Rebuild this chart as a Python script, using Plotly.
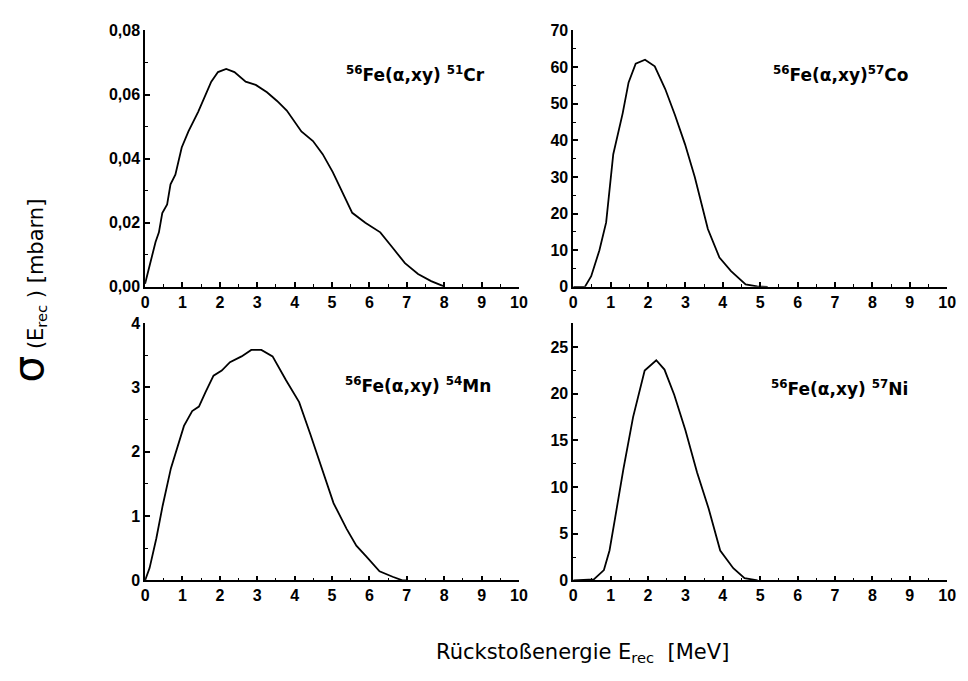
import plotly.graph_objects as go

# Recoil energy spectra for 56Fe(alpha,xy) reaction products
energy_cr = [0, 0.1, 0.28, 0.37, 0.46, 0.59, 0.68, 0.81, 0.98, 1.16, 1.42, 1.77, 1.95, 2.17,
             2.39, 2.69, 2.96, 3.26, 3.53, 3.79, 4.18, 4.49, 4.75, 5.02, 5.28, 5.54, 5.89,
             6.29, 6.6, 6.95, 7.3, 7.65, 7.96, 8.0]
sigma_cr = [0.001, 0.006, 0.014, 0.017, 0.023, 0.0257, 0.032, 0.035, 0.0435, 0.0485, 0.0546,
            0.064, 0.067, 0.068, 0.067, 0.064, 0.063, 0.0607, 0.058, 0.055, 0.0485, 0.0455,
            0.0414, 0.0358, 0.0292, 0.0231, 0.020, 0.017, 0.0125, 0.0074, 0.004, 0.0018,
            0.0003, 0.0]

energy_co = [0, 0.31, 0.48, 0.70, 0.88, 1.07, 1.32, 1.48, 1.67, 1.92, 2.18, 2.46, 2.72, 2.99,
             3.25, 3.60, 3.91, 4.22, 4.61, 4.92, 5.2]
sigma_co = [0, 0, 2.9, 10, 17.6, 36.2, 47.3, 55.8, 60.9, 62, 60.2, 54, 46.9, 38.9,
            30, 15.8, 8, 4.3, 0.7, 0.1, 0]

energy_mn = [0, 0.12, 0.3, 0.47, 0.69, 0.87, 1.04, 1.26, 1.44, 1.62, 1.83, 2.05, 2.27, 2.58,
             2.84, 3.11, 3.41, 3.77, 4.12, 4.42, 4.73, 5.04, 5.39, 5.65, 5.92, 6.27, 6.62,
             6.88, 7.0]
sigma_mn = [0, 0.19, 0.65, 1.16, 1.74, 2.07, 2.4, 2.63, 2.7, 2.93, 3.18, 3.26, 3.39, 3.48,
            3.58, 3.58, 3.48, 3.11, 2.77, 2.27, 1.72, 1.2, 0.8, 0.54, 0.37, 0.14, 0.056,
            0.0, 0.0]

energy_ni = [0, 0.55, 0.82, 0.97, 1.12, 1.34, 1.6, 1.91, 2.22, 2.44, 2.70, 3.0, 3.31, 3.62,
             3.93, 4.28, 4.58, 4.93]
sigma_ni = [0, 0.1, 1.1, 3.2, 6.7, 11.9, 17.5, 22.5, 23.6, 22.6, 19.9, 16.1, 11.6, 7.7,
            3.2, 1.3, 0.24, 0]

labels = [
    "<sup>56</sup>Fe(α,xy) <sup>51</sup>Cr",
    "<sup>56</sup>Fe(α,xy)<sup>57</sup>Co",
    "<sup>56</sup>Fe(α,xy) <sup>54</sup>Mn",
    "<sup>56</sup>Fe(α,xy) <sup>57</sup>Ni",
]

W, H = 968, 681

def px(x):
    return x / W

def py(y):
    return 1 - y / H

fig = go.Figure()
series = [(energy_cr, sigma_cr), (energy_co, sigma_co), (energy_mn, sigma_mn), (energy_ni, sigma_ni)]
for i, (xs, ys) in enumerate(series):
    suffix = "" if i == 0 else str(i + 1)
    fig.add_trace(go.Scatter(
        x=xs, y=ys, mode="lines",
        line=dict(color="black", width=1.8),
        xaxis="x" + suffix, yaxis="y" + suffix,
        showlegend=False, hoverinfo="skip",
    ))

tick_font = dict(family="Liberation Sans, Arial, sans-serif", size=16, color="black", weight="bold")

def xaxis(domain, anchor):
    return dict(
        domain=domain, anchor=anchor, range=[0, 10], dtick=1, tick0=0,
        showline=True, linecolor="black", linewidth=1.6, mirror=False,
        ticks="inside", ticklen=5, tickwidth=1.5, tickcolor="black",
        minor=dict(dtick=0.5, ticks="inside", ticklen=3, tickwidth=1, tickcolor="black"),
        showgrid=False, zeroline=False, tickfont=tick_font,
    )

def yaxis(domain, anchor, rng, dtick, mdtick, fmt=None):
    d = dict(
        domain=domain, anchor=anchor, range=rng, dtick=dtick, tick0=0,
        showline=True, linecolor="black", linewidth=1.6, mirror=False,
        ticks="inside", ticklen=5, tickwidth=1.5, tickcolor="black",
        minor=dict(dtick=mdtick, ticks="inside", ticklen=3, tickwidth=1, tickcolor="black"),
        showgrid=False, zeroline=False, tickfont=tick_font,
    )
    if fmt:
        d["tickformat"] = fmt
    return d

top = [py(286), py(23)]
bottom = [py(587), py(323)]
left = [px(143), px(522)]
right = [px(577), px(956)]

annotations = [
    dict(x=px(345), y=py(68), text=labels[0]),
    dict(x=px(777), y=py(68), text=labels[1]),
    dict(x=px(344), y=py(387), text=labels[2]),
    dict(x=px(775), y=py(390), text=labels[3]),
]
for a in annotations:
    a.update(xref="paper", yref="paper", xanchor="left", yanchor="middle", showarrow=False,
             font=dict(family="DejaVu Sans", size=17, color="black", weight="bold"))

annotations.append(dict(
    x=px(586), y=py(662), xref="paper", yref="paper", showarrow=False,
    xanchor="center", yanchor="middle",
    text="Rückstoßenergie E<sub>rec</sub>  [MeV]",
    font=dict(family="DejaVu Sans", size=21, color="black"),
))
annotations.append(dict(
    x=px(25), y=py(290), xref="paper", yref="paper", showarrow=False,
    xanchor="center", yanchor="middle", textangle=-90,
    text="<span style='font-size:42px'>σ</span> (E<sub>rec</sub> ) [mbarn]",
    font=dict(family="DejaVu Sans", size=21, color="black"),
))

fig.update_layout(
    width=W, height=H,
    margin=dict(l=0, r=0, t=0, b=0),
    paper_bgcolor="white", plot_bgcolor="white",
    separators=",.",
    xaxis=xaxis(left, "y"),
    yaxis=yaxis(top, "x", [0, 0.08], 0.02, 0.01, ".2f"),
    xaxis2=xaxis(right, "y2"),
    yaxis2=yaxis(top, "x2", [0, 70], 10, 5),
    xaxis3=xaxis(left, "y3"),
    yaxis3=yaxis(bottom, "x3", [0, 4], 1, 0.5),
    xaxis4=xaxis(right, "y4"),
    yaxis4=yaxis(bottom, "x4", [0, 27.6], 5, 2.5),
    annotations=annotations,
)

fig.write_html("out.html")
